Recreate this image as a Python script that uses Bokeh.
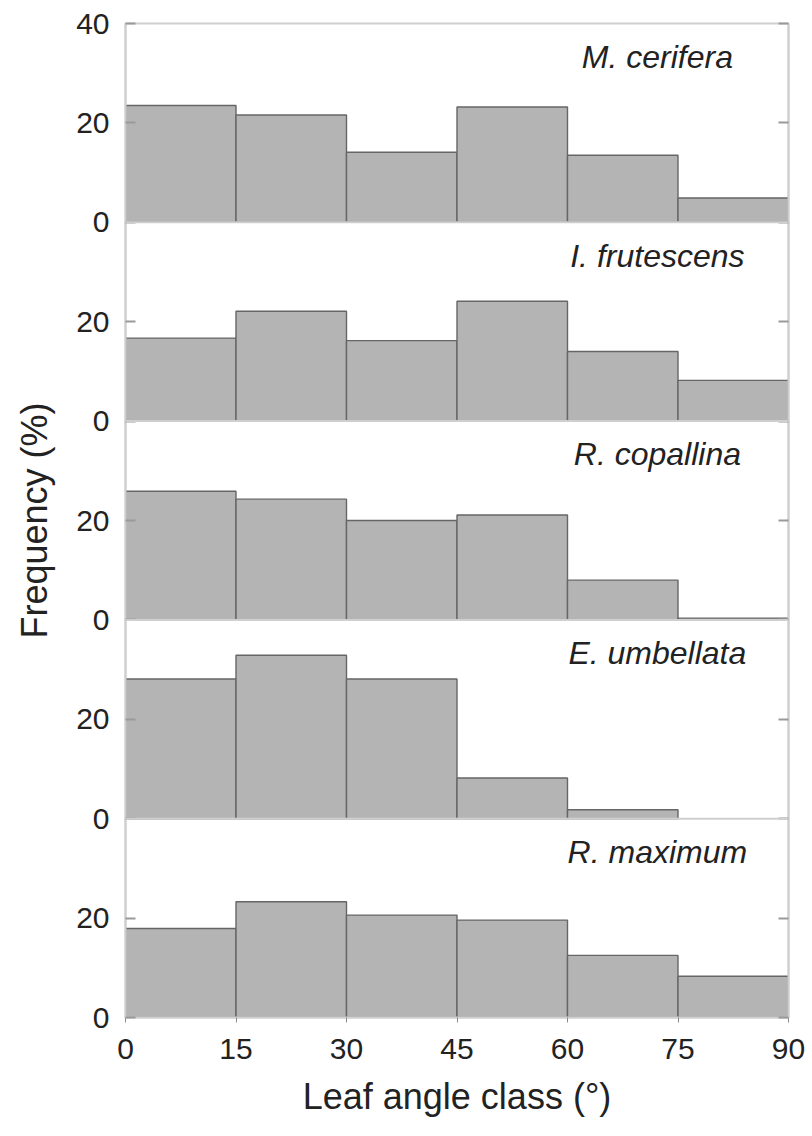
from bokeh.plotting import figure
from bokeh.models import Range1d, LinearAxis, FixedTicker, Span, ColumnDataSource
from bokeh.core.properties import value
from bokeh.embed import file_html
from bokeh.resources import INLINE

# ---- data ----
bin_edges = [0, 15, 30, 45, 60, 75, 90]
species = ["M. cerifera", "I. frutescens", "R. copallina", "E. umbellata", "R. maximum"]
m_cerifera = [23.5, 21.6, 14.1, 23.2, 13.5, 4.9]
i_frutescens = [16.7, 22.1, 16.2, 24.1, 14.0, 8.2]
r_copallina = [25.9, 24.3, 20.0, 21.1, 8.0, 0.35]
e_umbellata = [28.1, 32.9, 28.1, 8.2, 1.8, 0.0]
r_maximum = [17.9, 23.3, 20.6, 19.6, 12.5, 8.3]
series = [m_cerifera, i_frutescens, r_copallina, e_umbellata, r_maximum]
x_ticks = [0, 15, 30, 45, 60, 75, 90]
panel_max = 40
panel_ticks = [0, 20, 40]

n = len(species)
FONT = "Liberation Sans"
AXIS_GREY = "#cfcfcf"
TEXT = "#222222"

p = figure(frame_width=663, frame_height=994, output_backend="svg",
           toolbar_location=None, x_range=Range1d(0, 90),
           y_range=Range1d(0, panel_max * n),
           min_border_left=125, min_border_right=24,
           min_border_top=23, min_border_bottom=119)
p.xgrid.visible = False
p.ygrid.visible = False
p.outline_line_color = AXIS_GREY
p.outline_line_width = 2
p.background_fill_color = "white"
p.border_fill_color = "white"

# bars
left, right, bottom, top = [], [], [], []
for i, vals in enumerate(series):
    off = (n - 1 - i) * panel_max
    for j, v in enumerate(vals):
        if v > 0:
            left.append(bin_edges[j]); right.append(bin_edges[j + 1])
            bottom.append(off); top.append(off + v)
src = ColumnDataSource(dict(left=left, right=right, bottom=bottom, top=top))
p.quad(left="left", right="right", bottom="bottom", top="top", source=src,
       fill_color="#b4b4b4", line_color="#666666", line_width=1.4)

# panel separators
for i in range(1, n):
    p.add_layout(Span(location=i * panel_max, dimension="width",
                      line_color=AXIS_GREY, line_width=2))

# species labels
lx, ly = [], []
for i, s in enumerate(species):
    lx.append(72.2)
    ly.append((n - 1 - i) * panel_max + 33.3)
p.text(x=lx, y=ly, text=species, text_font=value(FONT), text_font_style="italic",
       text_font_size="32px", text_align="center", text_baseline="middle",
       text_color=TEXT)

# y ticks: 0 and 20 in every panel, 40 only at the top
yt = []
ylabels = {}
for i in range(n):
    off = i * panel_max
    for t in panel_ticks:
        if t == panel_max and i != n - 1:
            continue
        yt.append(off + t)
        ylabels[off + t] = str(t)
yt = sorted(set(yt))

for ax in p.yaxis:
    ax.ticker = FixedTicker(ticks=yt)
    ax.major_label_overrides = ylabels
    ax.axis_label = "Frequency (%)"
    ax.axis_label_text_font = FONT
    ax.axis_label_text_font_size = "36px"
    ax.axis_label_text_font_style = "normal"
    ax.axis_label_text_color = TEXT
    ax.axis_label_standoff = 18
    ax.major_label_text_font = FONT
    ax.major_label_text_font_size = "30px"
    ax.major_label_text_color = TEXT
    ax.major_label_standoff = 16
    ax.axis_line_color = AXIS_GREY
    ax.axis_line_width = 2
    ax.major_tick_in = 10
    ax.major_tick_out = 0
    ax.major_tick_line_color = "#9a9a9a"
    ax.major_tick_line_width = 2
    ax.minor_tick_line_color = None

ry = LinearAxis(ticker=FixedTicker(ticks=yt), major_label_text_font_size="0px",
                axis_line_color=AXIS_GREY, axis_line_width=2,
                major_tick_in=10, major_tick_out=0,
                major_tick_line_color="#9a9a9a", major_tick_line_width=2,
                minor_tick_line_color=None, major_label_standoff=0)
ry.major_label_overrides = {t: "" for t in yt}
p.add_layout(ry, "right")

for ax in p.xaxis:
    ax.ticker = FixedTicker(ticks=x_ticks)
    ax.axis_label = "Leaf angle class (°)"
    ax.axis_label_text_font = FONT
    ax.axis_label_text_font_size = "36px"
    ax.axis_label_text_font_style = "normal"
    ax.axis_label_text_color = TEXT
    ax.axis_label_standoff = 14
    ax.major_label_text_font = FONT
    ax.major_label_text_font_size = "30px"
    ax.major_label_text_color = TEXT
    ax.major_label_standoff = 16
    ax.axis_line_color = AXIS_GREY
    ax.axis_line_width = 2
    ax.major_tick_in = 0
    ax.major_tick_out = 5
    ax.major_tick_line_color = "#8a8a8a"
    ax.major_tick_line_width = 1
    ax.minor_tick_line_color = None

open("out.html", "w").write(file_html(p, INLINE))
